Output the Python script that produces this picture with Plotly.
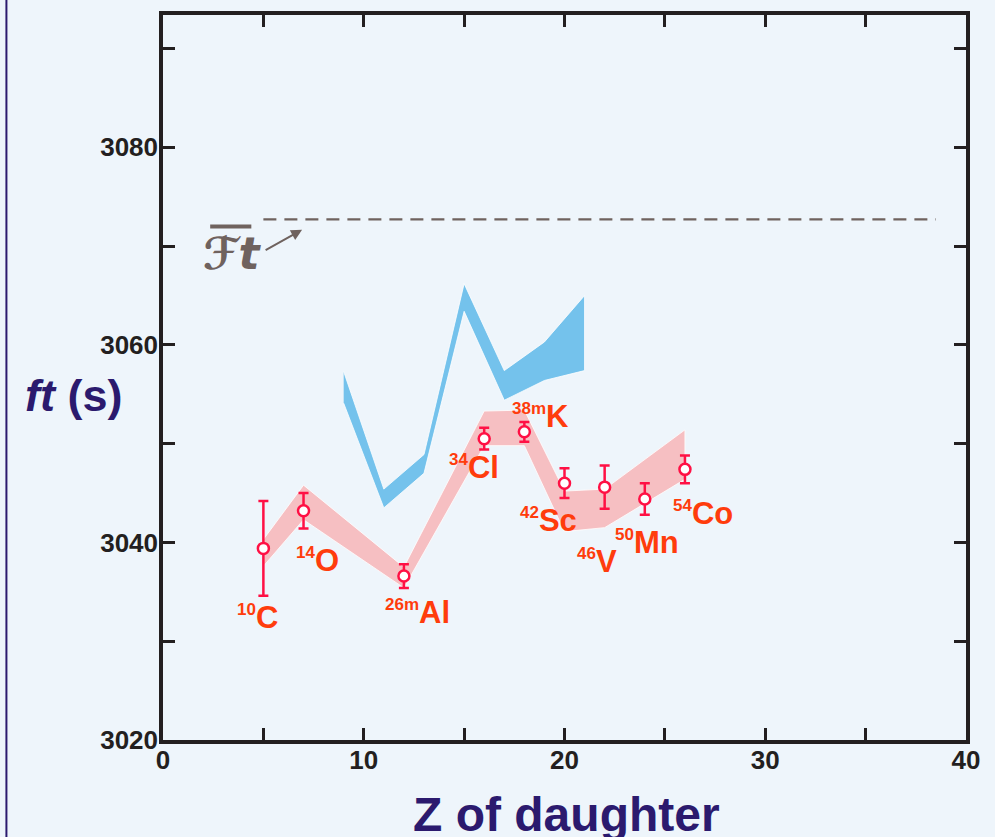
import plotly.graph_objects as go

# Superallowed 0+ -> 0+ beta decays: measured ft values vs daughter Z
z_daughter = [5, 7, 12, 16, 18, 20, 22, 24, 26]
ft_values = [3039.4, 3043.2, 3036.6, 3050.5, 3051.2, 3046.0, 3045.6, 3044.4, 3047.4]
ft_errors = [4.8, 1.8, 1.2, 1.1, 1.0, 1.5, 2.2, 1.6, 1.4]
nuclide_mass = ["10", "14", "26m", "34", "38m", "42", "46", "50", "54"]
nuclide_sym = ["C", "O", "Al", "Cl", "K", "Sc", "V", "Mn", "Co"]
label_x = [4.7, 7.7, 12.7, 15.5, 18.8, 19.2, 21.6, 24.1, 26.9]
label_y = [3032.4, 3038.2, 3032.9, 3047.6, 3052.8, 3042.2, 3038.1, 3040.0, 3042.9]

# Uncorrected-ft band (pink) and ft band with corrections reversed (blue)
red_z = [5, 7, 12, 16, 18, 20, 22, 26]
red_upper = [3040.3, 3045.8, 3037.5, 3053.3, 3053.4, 3045.2, 3045.4, 3051.4]
red_lower = [3037.6, 3042.3, 3035.4, 3049.8, 3049.8, 3041.1, 3041.5, 3046.4]

blue_z = [9, 11, 13, 15, 17, 19, 21]
blue_upper = [3057.3, 3045.4, 3048.9, 3066.2, 3057.4, 3060.3, 3065.0]
blue_lower = [3054.1, 3043.5, 3047.0, 3063.4, 3054.4, 3056.4, 3057.4]

# Average corrected Ft line
Ft_avg = 3072.7
Ft_z = [5, 38.5]

x_ticks = [0, 5, 10, 15, 20, 25, 30, 35, 40]
x_ticktext = ["0", "", "10", "", "20", "", "30", "", "40"]
y_ticks = [3020, 3030, 3040, 3050, 3060, 3070, 3080, 3090]
y_ticktext = ["3020", "", "3040", "", "3060", "", "3080", ""]

BG = "#eef5fb"
AXIS = "#231f20"
INDIGO = "#2b1a6e"
POINT = "#ff1044"
LABEL = "#ff3c0c"
GREY = "#6f625e"

fig = go.Figure()

fig.add_trace(go.Scatter(
    x=blue_z + blue_z[::-1], y=blue_upper + blue_lower[::-1],
    fill="toself", fillcolor="#74c2ec", mode="lines",
    line=dict(width=0.8, color="white"), hoverinfo="skip", showlegend=False))

fig.add_trace(go.Scatter(
    x=red_z + red_z[::-1], y=red_upper + red_lower[::-1],
    fill="toself", fillcolor="#f6bfc2", mode="lines",
    line=dict(width=0.8, color="white"), hoverinfo="skip", showlegend=False))

fig.add_trace(go.Scatter(
    x=Ft_z, y=[Ft_avg, Ft_avg], mode="lines",
    line=dict(color=GREY, width=2.2, dash="13px,8px"),
    hoverinfo="skip", showlegend=False))

fig.add_trace(go.Scatter(
    x=z_daughter, y=ft_values, mode="markers",
    marker=dict(symbol="circle", size=11, color="white",
                line=dict(color=POINT, width=2.5)),
    error_y=dict(type="data", array=ft_errors, visible=True,
                 color=POINT, thickness=2.5, width=5),
    showlegend=False))

annotations = []
for xm, ym, m, s in zip(label_x, label_y, nuclide_mass, nuclide_sym):
    annotations.append(dict(
        x=xm, y=ym, xref="x", yref="y", showarrow=False,
        xanchor="center", yanchor="middle",
        text=f"<b><sup><span style='font-size:17px'>{m}</span></sup>{s}</b>",
        font=dict(family="Liberation Sans, Arial", size=31, color=LABEL)))

# Ft symbol with overbar and arrow pointing to the average line
annotations.append(dict(
    x=3.45, y=3069.3, xref="x", yref="y", showarrow=False,
    xanchor="center", yanchor="middle",
    text="<b><i>ℱt</i></b>",
    font=dict(family="DejaVu Sans", size=44, color=GREY)))
annotations.append(dict(
    x=6.93, y=3071.65, xref="x", yref="y", showarrow=True,
    ax=-38, ay=21, axref="pixel", ayref="pixel",
    arrowhead=2, arrowsize=1.1, arrowwidth=2, arrowcolor=GREY, text=""))

annotations.append(dict(
    x=0.503, y=-0.103, xref="paper", yref="paper", showarrow=False,
    xanchor="center", yanchor="middle",
    text="<b>Z of daughter</b>",
    font=dict(family="Liberation Sans, Arial", size=48, color=INDIGO)))
annotations.append(dict(
    x=-0.112, y=0.475, xref="paper", yref="paper", showarrow=False,
    xanchor="center", yanchor="middle",
    text="<b><i>ft</i> (s)</b>",
    font=dict(family="Liberation Sans, Arial", size=45, color=INDIGO)))

shapes = [
    # overbar of the Ft symbol
    dict(type="line", xref="x", yref="y", x0=2.35, x1=4.4, y0=3072.0, y1=3072.0,
         line=dict(color=GREY, width=4)),
    # left border of the panel
    dict(type="line", xref="paper", yref="paper", x0=-0.195, x1=-0.195,
         y0=-0.2, y1=1.1, line=dict(color=INDIGO, width=2)),
]

axis_common = dict(
    showgrid=False, zeroline=False, showline=True, linewidth=3.5,
    linecolor=AXIS, mirror="allticks", ticks="inside", ticklen=12,
    tickwidth=2.5, tickcolor=AXIS,
    tickfont=dict(family="Liberation Sans, Arial", size=26, color=AXIS),
)

fig.update_layout(
    width=995, height=837,
    margin=dict(l=163, r=29, t=11, b=97),
    paper_bgcolor=BG, plot_bgcolor=BG,
    xaxis=dict(range=[0, 40], tickmode="array", tickvals=x_ticks,
               ticktext=[f"<b>{t}</b>" if t else "" for t in x_ticktext],
               ticklabelstandoff=-6, **axis_common),
    yaxis=dict(range=[3020, 3093.4], tickmode="array", tickvals=y_ticks,
               ticktext=[f"<b>{t}</b>" if t else "" for t in y_ticktext],
               ticklabelstandoff=-4, **axis_common),
    annotations=annotations, shapes=shapes,
)

fig.write_html("out.html")
